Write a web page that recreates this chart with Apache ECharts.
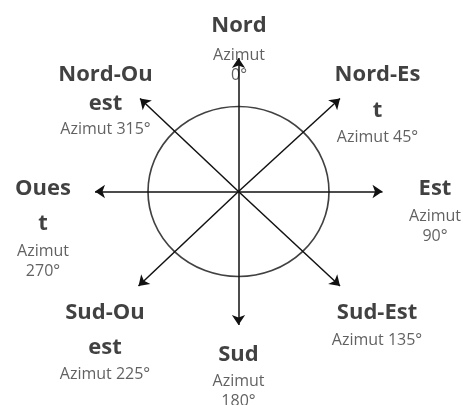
<!DOCTYPE html>
<html>
<head>
<meta charset="utf-8">
<script src="https://cdn.jsdelivr.net/npm/echarts@6/dist/echarts.min.js"></script>
<style>
  html, body { margin: 0; padding: 0; background: #fff; }
  #chart { width: 463px; height: 405px; }
</style>
</head>
<body>
<div id="chart"></div>
<script>
// compass directions, clockwise from north
const directions = ["Nord", "Nord-Est", "Est", "Sud-Est", "Sud", "Sud-Ouest", "Ouest", "Nord-Ouest"];
const azimuths = [0, 45, 90, 135, 180, 225, 270, 315];
// arrow tip, relative to the centre (y up)
const tipX = [0, 101.5, 144, 101.5, 0, -100, -143.5, -98.5];
const tipY = [133.5, 93, 0, -94.5, -133.5, -94.5, 0, 93];
// labels as they wrap in the picture
const nameLines = [["Nord"], ["Nord-Es", "t"], ["Est"], ["Sud-Est"], ["Sud"], ["Sud-Ou", "est"], ["Oues", "t"], ["Nord-Ou", "est"]];
const azimutLines = [["Azimut", "0°"], ["Azimut 45°"], ["Azimut", "90°"], ["Azimut 135°"], ["Azimut", "180°"], ["Azimut 225°"], ["Azimut", "270°"], ["Azimut 315°"]];

// layout only: bold line heights and label offsets from the arrow tip (px)
const boldLH = [[39], [39, 33], [35], [34], [34], [36, 33], [35, 35], [28, 31]];
const labelOff = [[0.5, -12.5], [37.5, 2.8], [52.5, 17.5], [37, 37], [0, 49.6], [-33.5, 53.5], [-52, 35], [-34.5, 1.7]];

const FONT = "'Open Sans', 'DejaVu Sans', sans-serif";

function labelFor(i) {
  const rich = { a: { fontFamily: FONT, fontSize: 16, lineHeight: 20, color: "#3a3a3a" } };
  const parts = nameLines[i].map((t, k) => {
    rich["b" + k] = { fontFamily: FONT, fontSize: 22, fontWeight: "bold", lineHeight: boldLH[i][k], color: "#111" };
    return `{b${k}|${t}}`;
  });
  azimutLines[i].forEach(t => parts.push(`{a|${t}}`));
  return { text: parts.join("\n"), rich };
}

const chart = echarts.init(document.getElementById("chart"), null, { renderer: "canvas" });

chart.setOption({
  animation: false,
  grid: { left: 0, right: 0, top: 0, bottom: 0, containLabel: false },
  xAxis: { type: "value", show: false, min: -238.5, max: 224.5 },
  yAxis: { type: "value", show: false, min: -213.5, max: 191.5 },
  series: [
    {
      // the ring round the centre
      type: "scatter", z: 1, silent: true,
      data: [[0, 0]],
      symbol: "circle",
      symbolSize: [181, 170],
      itemStyle: { color: "rgba(0,0,0,0)", borderColor: "#111", borderWidth: 1.6 },
    },
    {
      type: "scatter", z: 2, silent: true,
      symbolSize: 1,
      itemStyle: { color: "rgba(0,0,0,0)" },
      data: directions.map((d, i) => {
        const l = labelFor(i);
        return {
          name: d,
          value: [tipX[i], tipY[i], azimuths[i]],
          label: {
            show: true, position: "inside", align: "center", verticalAlign: "middle",
            offset: labelOff[i], formatter: l.text, rich: l.rich,
          },
        };
      }),
    },
    {
      type: "lines", z: 5, silent: true,
      coordinateSystem: "cartesian2d",
      symbol: ["none", "arrow"],
      symbolSize: 10,
      lineStyle: { color: "#111", width: 1.5, opacity: 1 },
      data: directions.map((d, i) => ({ name: d, coords: [[0, 0], [tipX[i], tipY[i]]] })),
    },
  ],
});
</script>
</body>
</html>
